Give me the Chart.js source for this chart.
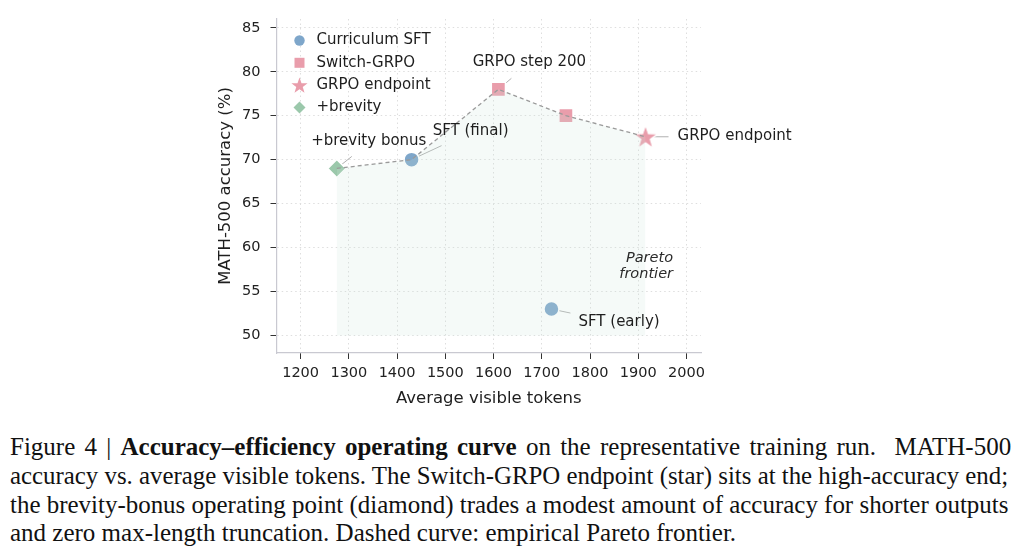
<!DOCTYPE html>
<html><head><meta charset="utf-8">
<script src="https://cdn.jsdelivr.net/npm/chart.js@4"></script>
<style>
html,body{margin:0;padding:0;background:#fff;}
#wrap{position:relative;width:1019px;height:554px;overflow:hidden;background:#fff;}
#c{position:absolute;left:0;top:0;}
.cap{position:absolute;left:10px;font-family:"Liberation Serif","Times New Roman",serif;font-size:25px;line-height:28.7px;color:#111;white-space:nowrap;transform-origin:0 50%;}
</style></head>
<body><div id="wrap"><canvas id="c" width="1019" height="420"></canvas>
<div class="cap j" style="top:432.5px">Figure 4 | <b>Accuracy–efficiency operating curve</b> on the representative training run. &nbsp;MATH-500</div>
<div class="cap j" style="top:461.5px">accuracy vs. average visible tokens. The Switch-GRPO endpoint (star) sits at the high-accuracy end;</div>
<div class="cap j" style="top:490.5px">the brevity-bonus operating point (diamond) trades a modest amount of accuracy for shorter outputs</div>
<div class="cap" style="top:519px">and zero max-length truncation. Dashed curve: empirical Pareto frontier.</div>
</div>
<script>
// ---- data ----
const xTicks = [1200, 1300, 1400, 1500, 1600, 1700, 1800, 1900, 2000];
const yTicks = [50, 55, 60, 65, 70, 75, 80, 85];
const sftX = [1430, 1720];
const sftY = [70, 53];
const switchX = [1610, 1750];
const switchY = [78, 75];
const endpointX = [1915];
const endpointY = [72.6];
const brevityX = [1275];
const brevityY = [69];
const frontierX = [1275, 1430, 1610, 1750, 1915];
const frontierY = [69, 70, 78, 75, 72.6];
const seriesNames = ['Curriculum SFT', 'Switch-GRPO', 'GRPO endpoint', '+brevity'];
const annoText = ['GRPO step 200', 'SFT (final)', '+brevity bonus', 'GRPO endpoint', 'SFT (early)'];
const annoX = [1610, 1430, 1275, 1915, 1720];
const annoY = [78, 70, 69, 72.6, 53];
const paretoText = ['Pareto', 'frontier'];
const paretoX = 1972;
const paretoY = [58.8, 57.0];
const xTitle = 'Average visible tokens';
const yTitle = 'MATH-500 accuracy (%)';

// ---- caption justification ----
const CAP_W = 998;
document.querySelectorAll('.cap.j').forEach(el => {
  const w = el.scrollWidth;
  const spaces = (el.textContent.match(/ /g) || []).length;
  if (w < CAP_W && spaces) el.style.wordSpacing = ((CAP_W - w) / spaces) + 'px';
  else if (w > CAP_W) el.style.transform = 'scaleX(' + (CAP_W / w) + ')';
});

// ---- styles ----
const BLUE = '#7ea6ca', PINK = '#e99dab', GREEN = '#9bc8ab';
const FONT = '"DejaVu Sans", sans-serif';
const annoLayout = [
  {tx: 31, ty: -27, align: 'center', lx: 13, ly: -11},
  {tx: 59, ty: -29, align: 'center', lx: 30, ly: -14},
  {tx: 32, ty: -27, align: 'center', lx: 15, ly: -12},
  {tx: 32, ty: -1, align: 'left', lx: 23, ly: 0},
  {tx: 27, ty: 13, align: 'left', lx: 19, ly: 4}
];

function starPath(g, cx, cy, R, r) {
  g.beginPath();
  for (let i = 0; i < 10; i++) {
    const a = -Math.PI / 2 + i * Math.PI / 5;
    const rr = i % 2 ? r : R;
    g.lineTo(cx + rr * Math.cos(a), cy + rr * Math.sin(a));
  }
  g.closePath();
}
function starImage(R) {
  const s = Math.ceil(2 * R + 6);
  const c = document.createElement('canvas');
  c.width = s; c.height = s;
  const g = c.getContext('2d');
  starPath(g, s / 2, s / 2 + 1, R, R * 0.4);
  g.fillStyle = PINK; g.fill();
  g.strokeStyle = '#fff'; g.lineWidth = 1.5; g.lineJoin = 'miter'; g.stroke();
  return c;
}
const pts = (xs, ys) => xs.map((x, i) => ({x, y: ys[i]}));

function drawMarker(g, kind, x, y, color) {
  g.save();
  g.fillStyle = color;
  g.beginPath();
  if (kind === 'circle') g.arc(x, y, 5.2, 0, Math.PI * 2);
  else if (kind === 'square') g.rect(x - 5, y - 5, 10, 10);
  else if (kind === 'diamond') { g.moveTo(x, y - 6); g.lineTo(x + 6, y); g.lineTo(x, y + 6); g.lineTo(x - 6, y); g.closePath(); }
  else if (kind === 'star') starPath(g, x, y + 0.8, 8.5, 8.5 * 0.4);
  g.fill();
  g.restore();
}

const annoPlugin = {
  id: 'anno',
  beforeDatasetsDraw(chart) {
    const g = chart.ctx, xs = chart.scales.x, ys = chart.scales.y;
    g.save();
    g.strokeStyle = '#b0b0b0'; g.lineWidth = 1;
    annoText.forEach((t, i) => {
      const px = xs.getPixelForValue(annoX[i]), py = ys.getPixelForValue(annoY[i]);
      const L = annoLayout[i];
      g.beginPath(); g.moveTo(px, py); g.lineTo(px + L.lx, py + L.ly); g.stroke();
    });
    g.restore();
  },
  afterDatasetsDraw(chart) {
    const g = chart.ctx, xs = chart.scales.x, ys = chart.scales.y, a = chart.chartArea;
    g.save();
    g.fillStyle = '#1e1e1e'; g.textBaseline = 'middle';
    g.font = '15px ' + FONT;
    annoText.forEach((t, i) => {
      const px = xs.getPixelForValue(annoX[i]), py = ys.getPixelForValue(annoY[i]);
      const L = annoLayout[i];
      g.textAlign = L.align;
      g.fillText(t, px + L.tx, py + L.ty);
    });
    g.font = 'italic 14.5px ' + FONT; g.textAlign = 'right'; g.fillStyle = '#2a2a2a';
    paretoText.forEach((t, i) => g.fillText(t, xs.getPixelForValue(paretoX), ys.getPixelForValue(paretoY[i])));
    // legend
    const kinds = ['circle', 'square', 'star', 'diamond'];
    const cols = [BLUE, PINK, PINK, GREEN];
    g.font = '15px ' + FONT; g.textAlign = 'left';
    seriesNames.forEach((n, i) => {
      const y = a.top + 21.5 + i * 22.3;
      drawMarker(g, kinds[i], a.left + 23, y, cols[i]);
      g.fillStyle = '#1e1e1e';
      g.fillText(n, a.left + 40, y);
    });
    g.restore();
  }
};

const axisCommon = {
  type: 'linear',
  grid: {color: '#dedede', lineWidth: 1, tickLength: 6, tickColor: '#333', tickWidth: 1},
  border: {color: '#c9c9d1', width: 1.2, dash: [1.5, 3]},
};

new Chart(document.getElementById('c'), {
  type: 'scatter',
  data: {datasets: [
    {type: 'line', label: 'frontier', data: pts(frontierX, frontierY), borderColor: '#9a9a9a', borderWidth: 1.3,
      borderDash: [4, 3], pointRadius: 0, tension: 0, fill: {value: 50}, backgroundColor: 'rgba(205,228,218,0.2)'},
    {label: seriesNames[0], data: pts(sftX, sftY), pointStyle: 'circle', pointRadius: 7.5,
      backgroundColor: BLUE, borderColor: '#fff', borderWidth: 1.5},
    {label: seriesNames[1], data: pts(switchX, switchY), pointStyle: 'rect', pointRadius: 10,
      backgroundColor: PINK, borderColor: '#fff', borderWidth: 1.5},
    {label: seriesNames[2], data: pts(endpointX, endpointY), pointStyle: starImage(13), pointRadius: 13},
    {label: seriesNames[3], data: pts(brevityX, brevityY), pointStyle: 'rectRot', pointRadius: 9,
      backgroundColor: GREEN, borderColor: '#fff', borderWidth: 1.5}
  ]},
  options: {
    responsive: false, animation: false, devicePixelRatio: 1,
    layout: {padding: {left: 214, right: 318, top: 19, bottom: 0}},
    plugins: {legend: {display: false}, tooltip: {enabled: false}},
    scales: {
      x: Object.assign({}, axisCommon, {
        min: 1150, max: 2030,
        afterBuildTicks: s => { s.ticks = xTicks.map(v => ({value: v})); },
        afterFit: s => { s.height = 67; },
        ticks: {font: {family: FONT, size: 14.5}, color: '#222', padding: 6, callback: v => String(v)},
        title: {display: true, text: xTitle, font: {family: FONT, size: 16.5}, color: '#1e1e1e', padding: {top: 0, bottom: 11}}
      }),
      y: Object.assign({}, axisCommon, {
        min: 48, max: 86,
        afterBuildTicks: s => { s.ticks = yTicks.map(v => ({value: v})); },
        afterFit: s => { s.width = 62.5; },
        ticks: {font: {family: FONT, size: 14.5}, color: '#222', padding: 10, callback: v => String(v)},
        title: {display: true, text: yTitle, font: {family: FONT, size: 16.5}, color: '#1e1e1e', padding: {top: 2, bottom: 0}}
      })
    }
  },
  plugins: [annoPlugin]
});
</script>
</body></html>
